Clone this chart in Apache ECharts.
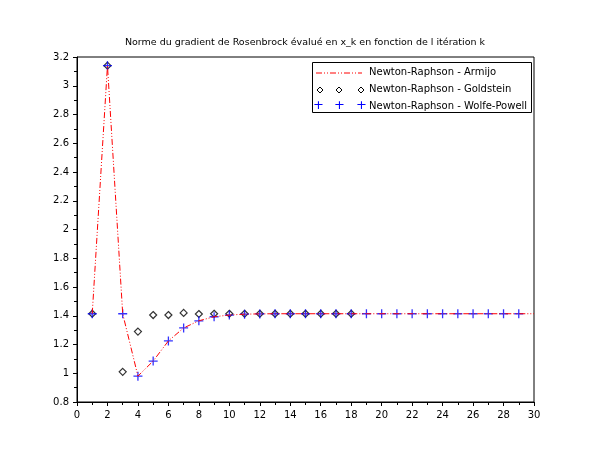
<!DOCTYPE html>
<html>
<head>
<meta charset="utf-8">
<script src="https://cdn.jsdelivr.net/npm/echarts@6/dist/echarts.min.js"></script>
</head>
<body style="margin:0;background:#fff">
<div id="chart" style="width:610px;height:460px;"></div>
<script>
    var armijo = [[1,1.414],[2,3.14],[3,1.414],[4,0.98],[5,1.085],[6,1.225],[7,1.315],[8,1.365],[9,1.393],[10,1.405],[11,1.411],[12,1.413],[13,1.414],[14,1.414],[15,1.414],[16,1.414],[17,1.414],[18,1.414],[19,1.414],[20,1.414],[21,1.414],[22,1.414],[23,1.414],[24,1.414],[25,1.414],[26,1.414],[27,1.414],[28,1.414],[29,1.414],[30,1.414]];
    var goldstein = [[1,1.414],[2,3.14],[3,1.01],[4,1.29],[5,1.405],[6,1.405],[7,1.42],[8,1.412],[9,1.414],[10,1.414],[11,1.414],[12,1.414],[13,1.414],[14,1.414],[15,1.414],[16,1.414],[17,1.414],[18,1.414]];
    var wolfe = [[1,1.414],[2,3.14],[3,1.414],[4,0.98],[5,1.085],[6,1.225],[7,1.315],[8,1.365],[9,1.393],[10,1.405],[11,1.411],[12,1.413],[13,1.414],[14,1.414],[15,1.414],[16,1.414],[17,1.414],[18,1.414],[19,1.414],[20,1.414],[21,1.414],[22,1.414],[23,1.414],[24,1.414],[25,1.414],[26,1.414],[27,1.414],[28,1.414],[29,1.414]];
    var names = ['Newton-Raphson - Armijo', 'Newton-Raphson - Goldstein', 'Newton-Raphson - Wolfe-Powell'];

    var plusPath = 'path://M0,5L10,5M5,0L5,10';
    var diamondPath = 'path://M5,0L10,5L5,10L0,5Z';
    var font = 'DejaVu Sans';

    var chart = echarts.init(document.getElementById('chart'));
    chart.setOption({
        animation: false,
        title: {
            text: 'Norme du gradient de Rosenbrock évalué en x_k en fonction de l itération k',
            left: 'center', top: 33,
            textStyle: {fontSize: 9.5, fontWeight: 'normal', color: '#000', fontFamily: font}
        },
        grid: {left: 77, right: 76, top: 57, bottom: 58, show: true, borderColor: '#000', borderWidth: 1},
        xAxis: {
            type: 'value', min: 0, max: 30, interval: 2,
            axisLine: {lineStyle: {color: '#000'}},
            axisTick: {inside: false, length: 4, lineStyle: {color: '#000'}},
            minorTick: {show: true, splitNumber: 2, length: 3, lineStyle: {color: '#000'}},
            axisLabel: {color: '#000', fontSize: 10, fontFamily: font},
            splitLine: {show: false}
        },
        yAxis: {
            type: 'value', min: 0.8, max: 3.2, interval: 0.2,
            axisLine: {lineStyle: {color: '#000'}},
            axisTick: {inside: false, length: 4, lineStyle: {color: '#000'}},
            minorTick: {show: true, splitNumber: 2, length: 3, lineStyle: {color: '#000'}},
            axisLabel: {color: '#000', fontSize: 10, fontFamily: font, formatter: function (v) { return +v.toFixed(1) + ''; }},
            splitLine: {show: false}
        },
        series: [
            {name: names[0], type: 'line', data: armijo, symbol: 'none',
             lineStyle: {color: '#ff0000', width: 1, type: [6, 2, 1, 2, 1, 2]}},
            {name: names[1], type: 'scatter', data: goldstein, symbol: diamondPath, symbolSize: 7,
             itemStyle: {color: 'transparent', borderColor: '#000', borderWidth: 1.2}},
            {name: names[2], type: 'scatter', data: wolfe, symbol: plusPath, symbolSize: 9,
             itemStyle: {color: 'transparent', borderColor: '#0000ff', borderWidth: 1.3}}
        ],
        graphic: [
            {type: 'rect', left: 312, top: 62, shape: {width: 219, height: 50},
             style: {fill: '#fff', stroke: '#000', lineWidth: 1}},
            {type: 'line', shape: {x1: 316, y1: 73, x2: 362, y2: 73},
             style: {stroke: '#ff0000', lineWidth: 1, lineDash: [6, 2, 1, 2, 1, 2]}},
            {type: 'text', left: 369, top: 67, style: {text: names[0], font: '10px DejaVu Sans', fill: '#000'}},
            {type: 'polygon', shape: {points: [[317,90],[320,87],[323,90],[320,93]]}, style: {fill: 'none', stroke: '#000'}},
            {type: 'polygon', shape: {points: [[336,90],[339,87],[342,90],[339,93]]}, style: {fill: 'none', stroke: '#000'}},
            {type: 'polygon', shape: {points: [[358,90],[361,87],[364,90],[361,93]]}, style: {fill: 'none', stroke: '#000'}},
            {type: 'text', left: 369, top: 84, style: {text: names[1], font: '10px DejaVu Sans', fill: '#000'}},
            {type: 'text', left: 313, top: 99, style: {text: '+', font: '13px DejaVu Sans', fill: '#0000ff'}},
            {type: 'text', left: 334, top: 99, style: {text: '+', font: '13px DejaVu Sans', fill: '#0000ff'}},
            {type: 'text', left: 356, top: 99, style: {text: '+', font: '13px DejaVu Sans', fill: '#0000ff'}},
            {type: 'text', left: 369, top: 101, style: {text: names[2], font: '10px DejaVu Sans', fill: '#000'}}
        ]
    });
</script>
</body>
</html>
